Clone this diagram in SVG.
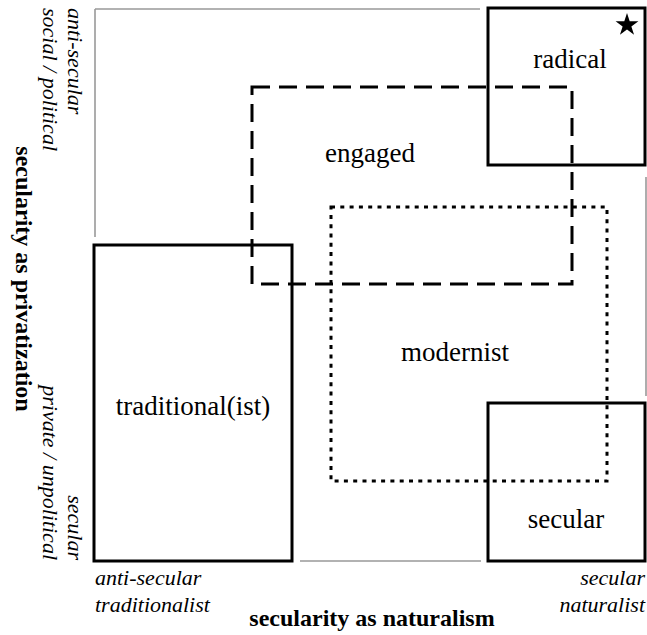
<svg xmlns="http://www.w3.org/2000/svg" width="647" height="635" viewBox="0 0 647 635">
<style>
.frame{stroke:#999;stroke-width:1.6;fill:none}
.box{fill:none;stroke:#000;stroke-width:3}
.dash{stroke-dasharray:18 9}
.dot{stroke-dasharray:4 5.3}
.lbl{font-family:"Liberation Serif",serif;font-size:27px;fill:#000;text-anchor:middle}
.ax{font-family:"Times New Roman",serif;font-size:22px;font-style:italic;fill:#000}
.title{font-family:"Liberation Serif",serif;font-size:24px;font-weight:bold;fill:#000;text-anchor:middle}
</style>
<g id="connectors">
<path class="frame" d="M95 9 H480 M95 9 V237 M300 561 H481 M646 177 V396"/>
</g>
<g id="traditional">
<rect class="box" x="94" y="245" width="198" height="316"/>
<text class="lbl" x="193" y="415">traditional(ist)</text>
</g>
<g id="radical">
<rect class="box" x="488" y="8" width="157" height="157"/>
<text class="lbl" x="570" y="68">radical</text>
<polygon points="627,13 629.7,21.28 638.41,21.29 631.37,26.42 634.05,34.71 627,29.6 619.95,34.71 622.63,26.42 615.59,21.29 624.3,21.28" fill="#000"/>
</g>
<g id="secular">
<rect class="box" x="488" y="403" width="157" height="158"/>
<text class="lbl" x="566" y="528">secular</text>
</g>
<g id="engaged">
<rect class="box dash" x="252" y="87" width="320" height="197"/>
<text class="lbl" x="370" y="162">engaged</text>
</g>
<g id="modernist">
<rect class="box dot" x="331" y="207" width="276" height="274"/>
<text class="lbl" x="455" y="361">modernist</text>
</g>
<g id="axes">
<text class="ax" x="95" y="585">anti-secular</text>
<text class="ax" x="95" y="612">traditionalist</text>
<text class="ax" x="645" y="585" text-anchor="end">secular</text>
<text class="ax" x="645" y="612" text-anchor="end">naturalist</text>
<text class="title" x="372" y="626">secularity as naturalism</text>
<text class="ax" transform="translate(68,8) rotate(90)" x="0" y="0">anti-secular</text>
<text class="ax" transform="translate(43,8) rotate(90)" x="0" y="0">social / political</text>
<text class="ax" transform="translate(68,560) rotate(90)" x="0" y="0" text-anchor="end">secular</text>
<text class="ax" transform="translate(43,560) rotate(90)" x="0" y="0" text-anchor="end">private / unpolitical</text>
<text class="title" transform="translate(16,279) rotate(90)" x="0" y="0">secularity as privatization</text>
</g>
</svg>
